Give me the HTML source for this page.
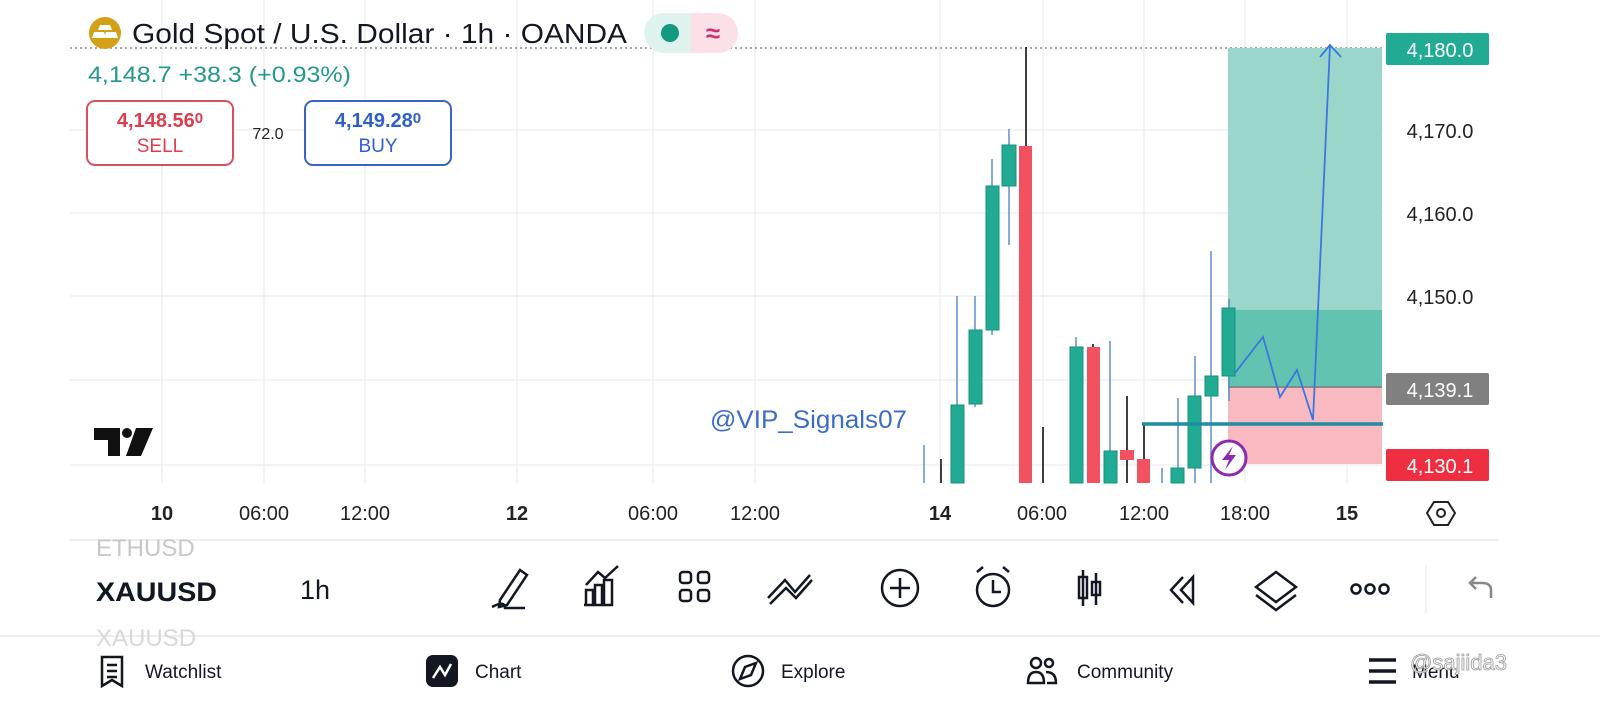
<!DOCTYPE html>
<html><head><meta charset="utf-8"><style>
body{margin:0;width:1600px;height:720px;background:#fff;font-family:"Liberation Sans",sans-serif;position:relative;overflow:hidden}
.a{position:absolute}
</style></head><body>
<svg class="a" style="left:0;top:0" width="1600" height="720" xmlns="http://www.w3.org/2000/svg" font-family="Liberation Sans, sans-serif">
<g stroke="#eeeff2" stroke-width="1.5">
<line x1="70" y1="130" x2="1383" y2="130"/><line x1="70" y1="213" x2="1383" y2="213"/><line x1="70" y1="296" x2="1383" y2="296"/><line x1="70" y1="380" x2="1383" y2="380"/><line x1="70" y1="465" x2="1383" y2="465"/>
<line x1="162" y1="0" x2="162" y2="483"/><line x1="264" y1="0" x2="264" y2="483"/><line x1="365" y1="0" x2="365" y2="483"/><line x1="517" y1="0" x2="517" y2="483"/><line x1="653" y1="0" x2="653" y2="483"/><line x1="755" y1="0" x2="755" y2="483"/><line x1="940" y1="0" x2="940" y2="483"/><line x1="1043" y1="0" x2="1043" y2="483"/><line x1="1144" y1="0" x2="1144" y2="483"/><line x1="1245" y1="0" x2="1245" y2="483"/><line x1="1347" y1="0" x2="1347" y2="483"/>
</g>
<line x1="70" y1="48" x2="1385" y2="48" stroke="#888" stroke-width="1.5" stroke-dasharray="2,3"/>
<rect x="1228" y="48" width="154" height="262" fill="#9ad7ca"/>
<rect x="1228" y="310" width="154" height="77" fill="#62c3b0"/>
<rect x="1228" y="387" width="154" height="77" fill="#f8b9c0"/>
<line x1="1228" y1="387" x2="1382" y2="387" stroke="#888" stroke-width="2"/>
<g stroke-width="1.5">
<line x1="924" y1="445" x2="924" y2="483" stroke="#5b8fd0"/>
<line x1="941" y1="459" x2="941" y2="483" stroke="#000"/>
<line x1="957" y1="296" x2="957" y2="483" stroke="#5b8fd0"/>
<line x1="975" y1="296" x2="975" y2="407" stroke="#5b8fd0"/>
<line x1="992" y1="159" x2="992" y2="335" stroke="#5b8fd0"/>
<line x1="1009" y1="129" x2="1009" y2="245" stroke="#5b8fd0"/>
<line x1="1026" y1="47" x2="1026" y2="483" stroke="#000"/>
<line x1="1043" y1="427" x2="1043" y2="483" stroke="#000"/>
<line x1="1076" y1="337" x2="1076" y2="483" stroke="#5b8fd0"/>
<line x1="1093" y1="344" x2="1093" y2="483" stroke="#000"/>
<line x1="1110" y1="341" x2="1110" y2="483" stroke="#5b8fd0"/>
<line x1="1127" y1="396" x2="1127" y2="483" stroke="#000"/>
<line x1="1144" y1="423" x2="1144" y2="483" stroke="#000"/>
<line x1="1162" y1="468" x2="1162" y2="483" stroke="#5b8fd0"/>
<line x1="1178" y1="398" x2="1178" y2="483" stroke="#5b8fd0"/>
<line x1="1195" y1="356" x2="1195" y2="483" stroke="#5b8fd0"/>
<line x1="1211" y1="251" x2="1211" y2="483" stroke="#5b8fd0"/>
<line x1="1229" y1="299" x2="1229" y2="401" stroke="#5b8fd0"/>
</g>
<g fill="#22ab94" stroke="#1a8f7a" stroke-width="1">
<rect x="951" y="405" width="13" height="78"/>
<rect x="969" y="330" width="13" height="74"/>
<rect x="986" y="186" width="13" height="144"/>
<rect x="1002" y="145" width="14" height="41"/>
<rect x="1070" y="347" width="13" height="136"/>
<rect x="1104" y="451" width="13" height="32"/>
<rect x="1171" y="468" width="13" height="15"/>
<rect x="1188" y="396" width="13" height="72"/>
<rect x="1205" y="376" width="13" height="20"/>
<rect x="1222" y="308" width="13" height="68"/>
</g>
<g fill="#f25260">
<rect x="1019" y="146" width="13" height="337"/>
<rect x="1087" y="347" width="13" height="136"/>
<rect x="1120" y="450" width="14" height="10"/>
<rect x="1137" y="459" width="13" height="24"/>
</g>
<line x1="1142" y1="424" x2="1383" y2="424" stroke="#1e8ea0" stroke-width="3.5"/>
<polyline points="1235,373 1263,337 1280,397 1297,370 1313,420 1330,45" fill="none" stroke="#3a78e0" stroke-width="1.8"/>
<polyline points="1320,57 1330,45 1341,57" fill="none" stroke="#3a78e0" stroke-width="1.8"/>
<circle cx="1229" cy="458" r="17" fill="#fff" stroke="#8e2ab0" stroke-width="3"/>
<path d="M1233 446 L1222 460 L1229 460 L1225 470 L1236 455 L1229 455 Z" fill="#8e2ab0"/>
<text x="710" y="428" font-size="25" fill="#3b6cc8" textLength="197" lengthAdjust="spacingAndGlyphs">@VIP_Signals07</text>
<rect x="1386" y="33" width="103" height="32" rx="2" fill="#22ab94"/>
<text x="1440" y="57" font-size="20" fill="#fff" text-anchor="middle">4,180.0</text>
<g font-size="20" fill="#222" text-anchor="middle"><text x="1440" y="138">4,170.0</text><text x="1440" y="221">4,160.0</text><text x="1440" y="304">4,150.0</text></g>
<rect x="1386" y="373" width="103" height="32" rx="2" fill="#808080"/>
<text x="1440" y="397" font-size="20" fill="#fff" text-anchor="middle">4,139.1</text>
<rect x="1386" y="449" width="103" height="32" rx="2" fill="#ef2f41"/>
<text x="1440" y="473" font-size="20" fill="#fff" text-anchor="middle">4,130.1</text>
<g font-size="20" fill="#222" text-anchor="middle">
<text x="162" y="520" font-weight="bold">10</text><text x="264" y="520">06:00</text><text x="365" y="520">12:00</text><text x="517" y="520" font-weight="bold">12</text><text x="653" y="520">06:00</text><text x="755" y="520">12:00</text><text x="940" y="520" font-weight="bold">14</text><text x="1042" y="520">06:00</text><text x="1144" y="520">12:00</text><text x="1245" y="520">18:00</text><text x="1347" y="520" font-weight="bold">15</text>
</g>
<polygon points="1434,502 1448,502 1455,513 1448,525 1434,525 1427,513" fill="none" stroke="#222" stroke-width="2"/>
<circle cx="1441" cy="513" r="4" fill="none" stroke="#222" stroke-width="2"/>
<path d="M94 428 H120 V456 H108 V440 H94 Z" fill="#111"/><circle cx="127" cy="433" r="5" fill="#111"/><path d="M136 428 H153 L141 456 H126 Z" fill="#111"/>
<circle cx="105" cy="33" r="16" fill="#d4a017"/>
<path d="M100 25 h10 l2 5 h-14 z M94 32 h10 l2 6 h-14z M106 32 h10 l2 6 h-14z" fill="#fff"/>
<text x="132" y="43" font-size="28" fill="#131722" textLength="495" lengthAdjust="spacingAndGlyphs">Gold Spot / U.S. Dollar · 1h · OANDA</text>
<rect x="644" y="13" width="94" height="40" rx="20" fill="#dff3ee"/>
<path d="M691 13 H718 A20 20 0 0 1 718 53 H691 Z" fill="#fbe1e7"/>
<circle cx="670" cy="33" r="9" fill="#12997f"/>
<text x="713" y="42" font-size="26" fill="#d0306e" text-anchor="middle" font-weight="bold">≈</text>
<text x="88" y="82" font-size="22" fill="#22998a" textLength="263" lengthAdjust="spacingAndGlyphs">4,148.7  +38.3 (+0.93%)</text>
<rect x="87" y="101" width="146" height="64" rx="8" fill="#fff" stroke="#d8505e" stroke-width="2"/>
<text x="160" y="127" font-size="20" fill="#dc3e4e" text-anchor="middle" font-weight="bold">4,148.56<tspan font-size="15" dy="-4">0</tspan></text>
<text x="160" y="152" font-size="19" fill="#dc3e4e" text-anchor="middle">SELL</text>
<text x="268" y="139" font-size="16" fill="#222" text-anchor="middle">72.0</text>
<rect x="305" y="101" width="146" height="64" rx="8" fill="#fff" stroke="#3a62c8" stroke-width="2"/>
<text x="378" y="127" font-size="20" fill="#2f5fc8" text-anchor="middle" font-weight="bold">4,149.28<tspan font-size="15" dy="-4">0</tspan></text>
<text x="378" y="152" font-size="19" fill="#2f5fc8" text-anchor="middle">BUY</text>
<line x1="70" y1="540" x2="1498" y2="540" stroke="#eee" stroke-width="2"/>
<line x1="0" y1="636" x2="1600" y2="636" stroke="#eee" stroke-width="2"/>
<text x="96" y="556" font-size="24" fill="#c8c8c8">ETHUSD</text>
<text x="96" y="601" font-size="27" fill="#131722" font-weight="bold" textLength="121" lengthAdjust="spacingAndGlyphs">XAUUSD</text>
<text x="96" y="646" font-size="24" fill="#d8d8d8">XAUUSD</text>
<text x="300" y="599" font-size="27" fill="#131722">1h</text>
<g fill="none" stroke="#131722" stroke-width="2.5">
<path d="M500 600 L520 570 L527 575 L507 605 L499 607 Z M492 607 Q505 600 505 608 H525"/>
<path d="M586 605 V590 H593 V605 M595 605 V585 H602 V605 M604 605 V580 H612 V605 H584 M586 585 L598 572 L605 578 L618 566"/>
<rect x="680" y="572" width="11" height="11" rx="3"/><rect x="698" y="572" width="11" height="11" rx="3"/><rect x="680" y="590" width="11" height="11" rx="3"/><rect x="698" y="590" width="11" height="11" rx="3"/>
<path d="M768 598 L785 580 L795 592 L810 575 M770 604 L786 588 L796 598 L812 580"/>
<circle cx="900" cy="588" r="18"/><path d="M900 578 V598 M890 588 H910"/>
<circle cx="993" cy="590" r="16"/><path d="M993 580 V592 H1001 M977 572 L983 567 M1009 572 L1003 567"/>
<path d="M1083 570 V606 M1079 577 H1087 V598 H1079 Z M1096 573 V605 M1092 582 H1100 V595 H1092 Z"/>
<path d="M1183 577 L1171 590 L1183 603 M1193 577 L1181 590 L1193 603 Z"/>
<path d="M1276 572 L1296 587 L1276 602 L1256 587 Z M1256 595 L1276 610 L1296 595"/>
<circle cx="1356" cy="589" r="4.5"/><circle cx="1370" cy="589" r="4.5"/><circle cx="1384" cy="589" r="4.5"/>
<path d="M1491 598 V590 Q1491 583 1482 583 H1470 M1476 577 L1470 583 L1476 589" stroke="#888"/>
</g>
<line x1="1426" y1="565" x2="1426" y2="613" stroke="#eee" stroke-width="1.5"/>
<g fill="none" stroke="#131722" stroke-width="2.5">
<path d="M102 657 H122 V686 L112 680 L102 686 Z M107 665 H117 M107 671 H117 M107 677 H117"/>
<circle cx="748" cy="671" r="15"/><path d="M756 663 L751 675 L740 679 L745 667 Z"/>
<circle cx="1036" cy="663" r="5"/><circle cx="1049" cy="663" r="4"/><path d="M1028 683 Q1028 672 1036 672 Q1044 672 1044 683 Z M1046 672 Q1056 672 1056 683 H1047"/>
<path d="M1369 660 H1396 M1369 671 H1396 M1369 682 H1396" stroke-width="3.5"/>
</g>
<rect x="426" y="655" width="32" height="32" rx="7" fill="#131722"/>
<path d="M433 678 L440 667 L445 675 L451 664" fill="none" stroke="#fff" stroke-width="2.5"/>
<g font-size="19" fill="#131722">
<text x="145" y="678">Watchlist</text><text x="475" y="678">Chart</text><text x="781" y="678">Explore</text><text x="1077" y="678">Community</text><text x="1412" y="678">Menu</text>
</g>
<text x="1410" y="670" font-size="22" fill="#fff" stroke="#999" stroke-width="0.8">@sajiida3</text>
</svg>
</body></html>
